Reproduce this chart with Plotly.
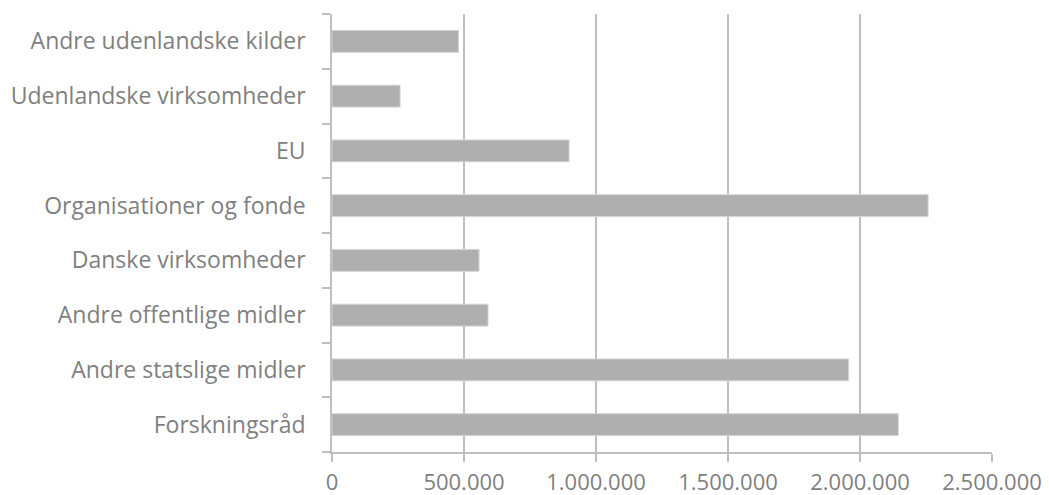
import plotly.graph_objects as go

# Funding sources, listed bottom to top
sources = [
    "Forskningsråd",
    "Andre statslige midler",
    "Andre offentlige midler",
    "Danske virksomheder",
    "Organisationer og fonde",
    "EU",
    "Udenlandske virksomheder",
    "Andre udenlandske kilder",
]
amounts = [2145000, 1957000, 591000, 557000, 2258000, 898000, 258000, 479000]

x_ticks = [0, 500000, 1000000, 1500000, 2000000, 2500000]

GRID = "#bfbfbf"
TEXT = "#7f7f7f"

fig = go.Figure(
    go.Bar(
        x=amounts,
        y=sources,
        orientation="h",
        marker=dict(color="#afafaf", line=dict(color="#d4d4d4", width=1)),
        hoverinfo="x+y",
    )
)

fig.update_layout(
    width=1049,
    height=495,
    margin=dict(l=332, r=57, t=14, b=43),
    paper_bgcolor="white",
    plot_bgcolor="white",
    separators=",.",
    bargap=0.6,
    showlegend=False,
    font=dict(family="Open Sans", size=23, color=TEXT),
)

fig.update_xaxes(
    range=[0, 2500000],
    tickvals=x_ticks,
    tickformat=",d",
    tickfont=dict(size=22),
    showgrid=True,
    gridcolor=GRID,
    gridwidth=1.6,
    showline=True,
    linecolor=GRID,
    linewidth=1.6,
    ticks="outside",
    ticklen=8,
    tickcolor=GRID,
    tickwidth=1.6,
    ticklabelstandoff=2,
    zeroline=False,
    automargin=False,
    fixedrange=True,
)

fig.update_yaxes(
    type="category",
    range=[-0.5, 7.5],
    showgrid=False,
    showline=True,
    linecolor=GRID,
    linewidth=1.6,
    ticks="outside",
    tickson="boundaries",
    ticklen=8,
    tickcolor=GRID,
    tickwidth=1.6,
    ticklabelstandoff=20,
    zeroline=False,
    automargin=False,
    fixedrange=True,
)

fig.write_html("out.html")
